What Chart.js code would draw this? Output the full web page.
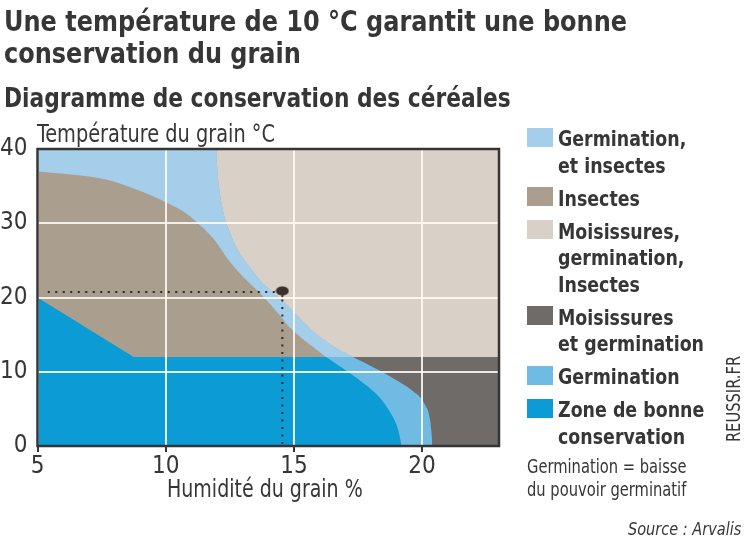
<!DOCTYPE html>
<html lang="fr">
<head>
<meta charset="utf-8">
<title>Diagramme de conservation des céréales</title>
<script src="https://cdn.jsdelivr.net/npm/chart.js@4.4.1/dist/chart.umd.min.js"></script>
<style>
  body { margin: 0; background: #fff; }
  #frame { position: relative; width: 747px; height: 545px; overflow: hidden;
           font-family: 'DejaVu Sans Condensed', 'DejaVu Sans', sans-serif; color: #363636; }
  #chart { position: absolute; left: 0; top: 0; }
  .txt { position: absolute; white-space: nowrap; transform-origin: left top; }
  #titre { left: 4px; top: 5px; font-size: 29px; line-height: 32px; font-weight: bold; transform: scaleX(0.92); }
  #sous-titre { left: 4px; top: 83px; font-size: 27px; line-height: 30px; font-weight: bold; transform: scaleX(0.895); }
  #axe-y { left: 37px; top: 120px; font-size: 25px; line-height: 28px; transform: scaleX(0.86); }
  #axe-x { left: 167px; top: 475px; font-size: 25px; line-height: 28px; transform: scaleX(0.845); }
  #legende { left: 527px; top: 126px; }
  .item { position: relative; padding-left: 31px; font-size: 22px; line-height: 26.5px; font-weight: bold; margin-bottom: 6.5px; }
  .item .sw { position: absolute; left: 0; top: 1.5px; width: 26px; height: 19px; }
  .item .lb { display: inline-block; transform: scaleX(0.88); transform-origin: left top; }
  #note { left: 527px; top: 454.5px; font-size: 19px; line-height: 23px; transform: scaleX(0.86); }
  #source { right: 6px; top: 519px; font-size: 17px; line-height: 20px; font-style: italic;
            transform: scaleX(0.95); transform-origin: right top; }
  #site { left: 733px; top: 399px; font-size: 19px; line-height: 20px; transform-origin: center;
          transform: translate(-50%, -50%) rotate(-90deg) scaleX(0.86); }
</style>
</head>
<body>
<div id="frame">
  <canvas id="chart" width="747" height="545"></canvas>
  <div class="txt" id="titre">Une température de 10 °C garantit une bonne<br>conservation du grain</div>
  <div class="txt" id="sous-titre">Diagramme de conservation des céréales</div>
  <div class="txt" id="axe-y">Température du grain °C</div>
  <div class="txt" id="axe-x">Humidité du grain %</div>
  <div class="txt" id="legende"></div>
  <div class="txt" id="note">Germination = baisse<br>du pouvoir germinatif</div>
  <div class="txt" id="source">Source : Arvalis</div>
  <div class="txt" id="site">REUSSIR.FR</div>
</div>
<script>
// Axes
const humiditeTicks = [5, 10, 15, 20];
const temperatureTicks = [0, 10, 20, 30, 40];

// Zones (legend order)
const zones = ['Germination,\net insectes', 'Insectes', 'Moisissures,\ngermination,\nInsectes',
               'Moisissures\net germination', 'Germination', 'Zone de bonne\nconservation'];
const zoneColors = ['#a4cee9', '#aa9f8f', '#d9d0c7', '#6f6b69', '#70bbe4', '#0b9bd5'];

// Limits: [humidité %, température °C]
const fondHaut = [[5, 40], [23, 40]];
const seuilMoisissures = [[5, 12], [23, 12]];
const seuilGermination = 12;
const limiteGermHaut = [[5, 40], [11.97, 40], [12, 38], [12.05, 35.8], [12.23, 31.8], [12.42, 29.5],
                        [12.75, 26.8], [13.27, 24.1], [13.79, 21.9], [14.35, 20.2], [14.95, 18.2],
                        [15.7, 15.6], [16.5, 13.5]];
const limiteGermBas = [[17.3, 12], [18.33, 10.2], [18.98, 8.9], [19.6, 7.5], [20.08, 5.75],
                       [20.31, 3.5], [20.38, 1.2], [20.4, 0]];
const limiteInsectes = [[5, 37], [7.43, 36.05], [8.73, 34.7], [9.96, 32.9], [10.67, 31.6], [11.19, 30.2],
                        [11.84, 28], [12.36, 25.5], [12.88, 23.3], [13.4, 21.5], [13.92, 19.7],
                        [14.4, 17.8], [14.95, 15.6], [16.25, 12]];
const bonneConservation = [[5, 20], [8.75, 12], [16.25, 12]];
const bonneConservationCourbe = [[16.25, 12], [17.55, 8.9], [18.33, 6.6], [18.78, 4.4], [19.07, 2.15], [19.2, 0]];

// Example point: about 14.5 % humidity at 20.8 °C
const repere = [[14.55, 20.75]];
const repereH = [[5.4, 20.75], [14.55, 20.75]];
const repereV = [[14.55, 20.75], [14.55, 0.3]];

const FONT = "'DejaVu Sans Condensed', 'DejaVu Sans', sans-serif";
const TEXT = '#363636';

// legend
const legende = document.getElementById('legende');
zones.forEach((z, i) => {
    const item = document.createElement('div');
    item.className = 'item';
    item.innerHTML = '<span class="sw" style="background:' + zoneColors[i] + '"></span>' +
        '<span class="lb">' + z.replace(/\n/g, '<br>') + '</span>';
    legende.appendChild(item);
});

function pts(arr) {
    return arr.map(p => ({ x: p[0], y: p[1] }));
}

// curve: 'monotone', a bezier tension, or nothing for straight edges
function zone(data, color, order, curve, fill) {
    return {
        data: pts(data),
        backgroundColor: color,
        borderWidth: 0,
        pointRadius: 0,
        fill: fill || 'start',
        cubicInterpolationMode: curve === 'monotone' ? 'monotone' : 'default',
        tension: typeof curve === 'number' ? curve : 0,
        order: order
    };
}

// pin marker: ellipse with a short stem
function pinMarker() {
    const c = document.createElement('canvas');
    c.width = 14;
    c.height = 16;
    const g = c.getContext('2d');
    g.fillStyle = '#3a2f2a';
    g.beginPath();
    g.ellipse(7, 7, 6.5, 4.5, 0, 0, Math.PI * 2);
    g.fill();
    g.fillRect(6, 9, 2, 5);
    return c;
}

// Frame round the plot
const plotFrame = {
    id: 'plotFrame',
    afterDraw(chart) {
        const a = chart.chartArea;
        const c = chart.ctx;
        c.save();
        c.strokeStyle = '#353535';
        c.lineWidth = 2.5;
        c.strokeRect(a.left, a.top, a.right - a.left, a.bottom - a.top);
        c.restore();
    }
};

const gridColor = 'rgba(255, 252, 244, 0.88)';

new Chart(document.getElementById('chart'), {
    type: 'line',
    data: {
        datasets: [
            zone(fondHaut, zoneColors[2], 20),
            zone(seuilMoisissures, zoneColors[3], 19),
            // germination band, darker below 12 °C
            zone(limiteGermHaut.concat(limiteGermBas), zoneColors[4], 18, 'monotone'),
            zone(limiteGermHaut.concat([limiteGermBas[0]]), zoneColors[0], 17, 'monotone', { value: seuilGermination }),
            zone(limiteInsectes, zoneColors[1], 15, 0.4),
            // straight part reaches one step into the curve so both parts overlap
            zone(bonneConservation.concat([bonneConservationCourbe[1]]), zoneColors[5], 14),
            zone(bonneConservationCourbe, zoneColors[5], 13, 'monotone'),
            {
                data: pts(repereH),
                borderColor: '#2f2a27',
                borderWidth: 2,
                borderDash: [2, 5.5],
                pointRadius: 0,
                fill: false,
                order: 3
            },
            {
                data: pts(repereV),
                borderColor: '#2f2a27',
                borderWidth: 2,
                borderDash: [2, 5.5],
                pointRadius: 0,
                fill: false,
                order: 3
            },
            {
                data: pts(repere),
                showLine: false,
                pointStyle: pinMarker(),
                pointRadius: 7,
                order: 1
            }
        ]
    },
    options: {
        responsive: false,
        animation: false,
        events: [],
        layout: { padding: { top: 149, right: 248, bottom: 39, left: 0 } },
        plugins: {
            legend: { display: false },
            tooltip: { enabled: false }
        },
        scales: {
            x: {
                type: 'linear',
                min: 5,
                max: 23,
                afterBuildTicks: s => { s.ticks = humiditeTicks.map(v => ({ value: v })); },
                afterFit: s => { s.height = 60; },
                ticks: { color: TEXT, font: { family: FONT, size: 24 }, padding: 0, maxRotation: 0 },
                grid: { z: 1, color: gridColor, lineWidth: 2, tickColor: '#353535', tickLength: 6, tickWidth: 2 },
                border: { display: false }
            },
            y: {
                type: 'linear',
                min: 0,
                max: 40,
                afterBuildTicks: s => { s.ticks = temperatureTicks.map(v => ({ value: v })); },
                afterFit: s => { s.width = 37.5; },
                ticks: { color: TEXT, font: { family: FONT, size: 24 }, padding: 10 },
                grid: { z: 1, color: gridColor, lineWidth: 2, drawTicks: false },
                border: { display: false }
            }
        }
    },
    plugins: [plotFrame]
});
</script>
</body>
</html>
